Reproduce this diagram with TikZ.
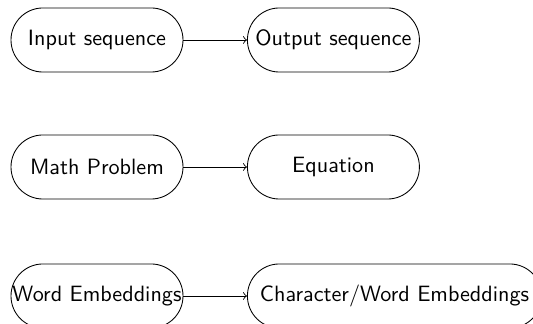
\documentclass[tikz,border=0pt]{standalone}
\tikzset{
  pill/.style={draw, rectangle, rounded corners=14.7pt, inner sep=0pt,
    minimum width=79.2pt, minimum height=29.5pt,
    font=\sffamily\fontsize{10.2}{12.2}\selectfont},
  conn/.style={->}
}
\begin{document}
\begin{tikzpicture}[x=0.4605pt, y=-0.4605pt]
\useasboundingbox (0,0) rectangle (533,324);
\node[pill] (in) at (97,40) {Input sequence};
\node[pill, anchor=west] (out) at (247,40) {Output sequence};
\node[pill] (math) at (97,167) {Math Problem};
\node[pill, anchor=west] (eq) at (247,167) {Equation};
\node[pill] (word) at (97,296) {Word Embeddings};
\node[pill, anchor=west, minimum width=135.5pt] (char) at (247,296) {Character/Word Embeddings};
\draw[conn] (in) -- (out);
\draw[conn] (math) -- (eq);
\draw[conn] (word) -- (char);
\end{tikzpicture}
\end{document}
